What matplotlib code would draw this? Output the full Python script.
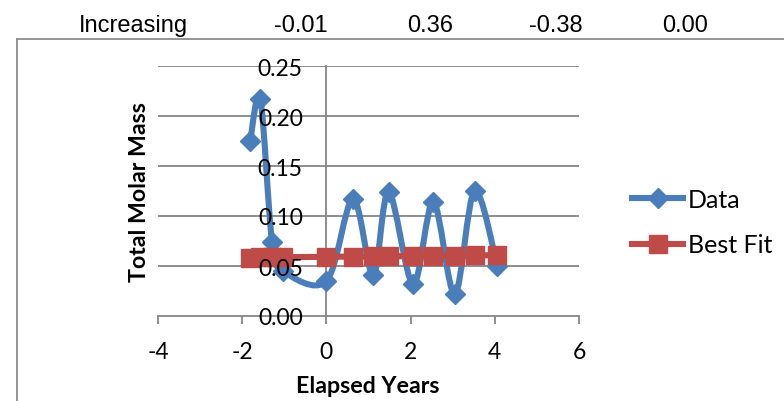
import matplotlib
matplotlib.use("Agg")
import matplotlib.pyplot as plt
from matplotlib.path import Path
from matplotlib.patches import PathPatch
from matplotlib.lines import Line2D

plt.rcParams['font.family'] = ['Lato', 'DejaVu Sans']
plt.rcParams['axes.unicode_minus'] = False

# header row of spreadsheet cells above the chart
header_labels = ["Increasing", "-0.01", "0.36", "-0.38", "0.00"]

# data
years = [-1.81, -1.57, -1.29, -1.02, 0.0, 0.63, 1.11, 1.48, 2.06, 2.54, 3.05, 3.52, 4.06]
molar_mass = [0.175, 0.217, 0.074, 0.045, 0.035, 0.117, 0.041, 0.124, 0.032, 0.114, 0.022, 0.125, 0.050]
best_fit = [0.0585, 0.0586, 0.0587, 0.0588, 0.0592, 0.0594, 0.0596, 0.0597, 0.0600, 0.0602, 0.0604, 0.0606, 0.0608]

blue = '#4A7EBB'
red = '#BE4B48'
grid_gray = '#868686'

W, H = 784, 402
fig = plt.figure(figsize=(W / 100, H / 100), dpi=100)
ax = fig.add_axes([158 / W, (H - 317) / H, (579 - 158) / W, (317 - 67) / H])

ax.set_xlim(-4, 6)
ax.set_ylim(0, 0.25)
ax.set_xticks([-4, -2, 0, 2, 4, 6])
yticks = [0, 0.05, 0.10, 0.15, 0.20, 0.25]
ax.set_yticks(yticks)
ax.set_yticklabels([f"{v:.2f}" for v in yticks])

for s in ['top', 'right']:
    ax.spines[s].set_visible(False)
ax.spines['left'].set_position(('data', 0))
ax.spines['left'].set_color(grid_gray)
ax.spines['bottom'].set_color(grid_gray)
ax.spines['left'].set_linewidth(1.3)
ax.spines['bottom'].set_linewidth(1.3)
ax.tick_params(axis='y', length=0, pad=17, labelsize=16.5)
ax.tick_params(axis='x', length=6, width=1.3, color=grid_gray, pad=12, labelsize=16.5)

# gridlines kept below the data, tick labels above it
for v in yticks[1:]:
    ax.axhline(v, color=grid_gray, linewidth=1.3, zorder=0.5)
ax.yaxis.set_zorder(10)

# smooth line like Excel's (Bezier through the points)
pts = list(zip(years, molar_mass))
n = len(pts)
verts = [pts[0]]
codes = [Path.MOVETO]
for i in range(n - 1):
    p0 = pts[max(i - 1, 0)]
    p1 = pts[i]
    p2 = pts[i + 1]
    p3 = pts[min(i + 2, n - 1)]
    c1 = (p1[0] + (p2[0] - p0[0]) / 6, p1[1] + (p2[1] - p0[1]) / 6)
    c2 = (p2[0] - (p3[0] - p1[0]) / 6, p2[1] - (p3[1] - p1[1]) / 6)
    verts += [c1, c2, p2]
    codes += [Path.CURVE4] * 3
ax.add_patch(PathPatch(Path(verts, codes), facecolor='none', edgecolor=blue,
                       linewidth=4.4, capstyle='round', joinstyle='round', zorder=3))
ax.plot(years, molar_mass, linestyle='none', marker='D', markersize=10,
        color=blue, zorder=4)

ax.plot(years, best_fit, color=red, linewidth=4.4, marker='s', markersize=13,
        zorder=5, solid_capstyle='round')

fig.text(140 / W, 1 - 192 / H, "Total Molar Mass", rotation=90, ha='center',
         va='center', fontsize=16.7, fontweight='bold')
fig.text(368 / W, 1 - 387 / H, "Elapsed Years", ha='center', va='center',
         fontsize=16.7, fontweight='bold')

# legend
handles = [Line2D([], [], color=blue, linewidth=4.4, marker='D', markersize=10),
           Line2D([], [], color=red, linewidth=4.4, marker='s', markersize=13)]
fig.legend(handles, ["Data", "Best Fit"], loc='center left',
           bbox_to_anchor=(622 / W, 1 - 223 / H), frameon=False, fontsize=18,
           handlelength=2.05, handletextpad=0.2, labelspacing=0.9, borderaxespad=0)

# header cells
header_x = [133, 301, 430, 556, 685]
for label, x in zip(header_labels, header_x):
    fig.text(x / W, 1 - 26 / H, label, ha='center', va='center', fontsize=17,
             family='Liberation Sans')

# chart border (top and left edges)
fig.add_artist(Line2D([17 / W, 1], [1 - 40 / H, 1 - 40 / H], color='#8C8C8C', linewidth=1.3))
fig.add_artist(Line2D([17 / W, 17 / W], [1 - 40 / H, 0], color='#8C8C8C', linewidth=1.3))

fig.savefig("out.png", dpi=100)
